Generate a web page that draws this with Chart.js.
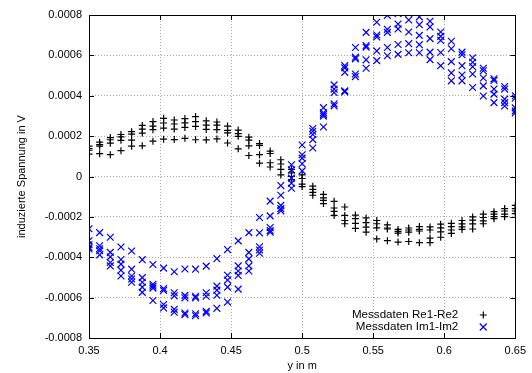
<!DOCTYPE html>
<html>
<head>
<meta charset="utf-8">
<script src="https://cdn.jsdelivr.net/npm/chart.js@4"></script>
<style>
  html, body { margin: 0; padding: 0; background: #fff; }
</style>
</head>
<body>
<canvas id="chart" width="532" height="373"></canvas>
<script>
// measurement positions (y in m)
const xPositions = [0.35, 0.3575, 0.365, 0.3725, 0.38, 0.3875, 0.395, 0.4025, 0.41, 0.4175,
  0.425, 0.4325, 0.44, 0.4475, 0.455, 0.4625, 0.47, 0.4775, 0.485, 0.4925,
  0.5, 0.5075, 0.515, 0.5225, 0.53, 0.5375, 0.545, 0.5525, 0.56, 0.5675,
  0.575, 0.5825, 0.59, 0.5975, 0.605, 0.6125, 0.62, 0.6275, 0.635, 0.6425, 0.65];

// Re1-Re2, four runs
const re1 = [0.000150, 0.000170, 0.000193, 0.000208, 0.000222, 0.000253, 0.000272, 0.000288, 0.000280, 0.000287,
  0.000297, 0.000276, 0.000270, 0.000250, 0.000230, 0.000195, 0.000163, 0.000126, 0.000083, 0.000035,
  0.000008, -0.000048, -0.000089, -0.000123, -0.000151, -0.000191, -0.000205, -0.000218, -0.000240, -0.000262,
  -0.000255, -0.000248, -0.000250, -0.000236, -0.000232, -0.000218, -0.000200, -0.000186, -0.000174, -0.000159, -0.000143];
const re2 = [0.000138, 0.000158, 0.000182, 0.000196, 0.000210, 0.000235, 0.000250, 0.000265, 0.000260, 0.000266,
  0.000272, 0.000254, 0.000254, 0.000228, 0.000212, 0.000180, 0.000154, 0.000114, 0.000062, 0.000018,
  -0.000010, -0.000064, -0.000106, -0.000156, -0.000193, -0.000209, -0.000228, -0.000234, -0.000255, -0.000272,
  -0.000265, -0.000262, -0.000265, -0.000254, -0.000248, -0.000235, -0.000216, -0.000203, -0.000186, -0.000171, -0.000159];
const re3 = [0.000130, 0.000150, 0.000165, 0.000179, 0.000180, 0.000215, 0.000232, 0.000240, 0.000235, 0.000243,
  0.000248, 0.000233, 0.000232, 0.000216, 0.000199, 0.000152, 0.000108, 0.000068, 0.000035, 0.000000,
  -0.000038, -0.000079, -0.000118, -0.000173, -0.000218, -0.000232, -0.000251, -0.000254, -0.000260, -0.000280,
  -0.000276, -0.000270, -0.000305, -0.000274, -0.000265, -0.000250, -0.000235, -0.000220, -0.000199, -0.000186, -0.000171];
const re4 = [0.000111, 0.000113, 0.000108, 0.000128, 0.000150, 0.000152, 0.000175, 0.000185, 0.000183, 0.000189,
  0.000182, 0.000181, 0.000186, 0.000166, 0.000137, 0.000104, 0.000066, 0.000047, 0.000008, -0.000015,
  -0.000050, -0.000093, -0.000134, -0.000193, -0.000234, -0.000257, -0.000276, -0.000309, -0.000318, -0.000325,
  -0.000322, -0.000328, -0.000328, -0.000301, -0.000282, -0.000262, -0.000260, -0.000234, -0.000209, -0.000199, -0.000184];

// Im1-Im2, five runs
const im1 = [-0.000259, -0.000278, -0.000301, -0.000349, -0.000369, -0.000412, -0.000436, -0.000454, -0.000472, -0.000458,
  -0.000459, -0.000444, -0.000407, -0.000362, -0.000319, -0.000278, -0.000203, -0.000122, -0.000045, 0.000058,
  0.000156, 0.000238, 0.000341, 0.000454, 0.000549, 0.000639, 0.000714, 0.000764, 0.000798, 0.000806,
  0.000808, 0.000791, 0.000769, 0.000716, 0.000670, 0.000616, 0.000588, 0.000536, 0.000484, 0.000446, 0.000400];
const im2 = [-0.000318, -0.000343, -0.000376, -0.000411, -0.000459, -0.000501, -0.000534, -0.000555, -0.000576, -0.000589,
  -0.000593, -0.000576, -0.000543, -0.000489, -0.000443, -0.000376, -0.000279, -0.000195, -0.000093, 0.000033,
  0.000108, 0.000224, 0.000316, 0.000433, 0.000538, 0.000591, 0.000649, 0.000701, 0.000729, 0.000755,
  0.000775, 0.000752, 0.000741, 0.000694, 0.000633, 0.000603, 0.000566, 0.000524, 0.000476, 0.000433, 0.000388];
const im3 = [-0.000338, -0.000358, -0.000398, -0.000434, -0.000493, -0.000524, -0.000543, -0.000564, -0.000591, -0.000601,
  -0.000601, -0.000593, -0.000563, -0.000513, -0.000468, -0.000408, -0.000348, -0.000253, -0.000143, -0.000008,
  0.000091, 0.000208, 0.000308, 0.000416, 0.000516, 0.000583, 0.000641, 0.000691, 0.000714, 0.000731,
  0.000716, 0.000699, 0.000683, 0.000674, 0.000569, 0.000549, 0.000544, 0.000488, 0.000433, 0.000383, 0.000340];
const im4 = [-0.000351, -0.000368, -0.000426, -0.000464, -0.000508, -0.000548, -0.000553, -0.000634, -0.000658, -0.000676,
  -0.000680, -0.000668, -0.000588, -0.000548, -0.000490, -0.000443, -0.000364, -0.000268, -0.000159, -0.000033,
  0.000063, 0.000183, 0.000299, 0.000360, 0.000424, 0.000508, 0.000578, 0.000622, 0.000639, 0.000654,
  0.000658, 0.000653, 0.000616, 0.000614, 0.000513, 0.000503, 0.000508, 0.000449, 0.000408, 0.000366, 0.000325];
const im5 = [-0.000359, -0.000388, -0.000443, -0.000493, -0.000524, -0.000574, -0.000614, -0.000651, -0.000672, -0.000684,
  -0.000690, -0.000676, -0.000653, -0.000622, -0.000558, -0.000468, -0.000380, -0.000276, -0.000170, -0.000058,
  0.000028, 0.000141, 0.000245, 0.000350, 0.000419, 0.000495, 0.000536, 0.000574, 0.000598, 0.000605,
  0.000613, 0.000613, 0.000579, 0.000549, 0.000474, 0.000474, 0.000441, 0.000399, 0.000366, 0.000349, 0.000315];

const xTicks = [0.35, 0.4, 0.45, 0.5, 0.55, 0.6, 0.65];
const yTicks = [-0.0008, -0.0006, -0.0004, -0.0002, 0, 0.0002, 0.0004, 0.0006, 0.0008];
const legendLabels = ['Messdaten Re1-Re2', 'Messdaten Im1-Im2'];

const fontFamily = '"Liberation Sans", Arial, sans-serif';

function toPoints(runs) {
  return xPositions.flatMap((x, i) => runs.map(r => ({ x: x, y: r[i] })));
}

// gnuplot style border, inward tick marks and legend
const gnuplotFrame = {
  id: 'gnuplotFrame',
  afterDraw(chart) {
    const { ctx, chartArea: a, scales } = chart;
    ctx.save();
    ctx.strokeStyle = '#000';
    ctx.lineWidth = 1;
    ctx.beginPath();
    xTicks.forEach(v => {
      const px = Math.round(scales.x.getPixelForValue(v)) + 0.5;
      ctx.moveTo(px, a.bottom); ctx.lineTo(px, a.bottom - 5);
      ctx.moveTo(px, a.top); ctx.lineTo(px, a.top + 5);
    });
    yTicks.forEach(v => {
      const py = Math.round(scales.y.getPixelForValue(v)) + 0.5;
      ctx.moveTo(a.left, py); ctx.lineTo(a.left + 5, py);
      ctx.moveTo(a.right, py); ctx.lineTo(a.right - 5, py);
    });
    ctx.stroke();
    ctx.strokeRect(Math.round(a.left) + 0.5, Math.round(a.top) + 0.5, Math.round(a.width), Math.round(a.height));

    ctx.font = '11.6px ' + fontFamily;
    ctx.fillStyle = '#000';
    ctx.textAlign = 'right';
    ctx.textBaseline = 'middle';
    const textRight = a.right - 57;
    const markX = a.right - 32;
    const rowY = [a.bottom - 23, a.bottom - 11];
    ctx.fillText(legendLabels[0], textRight, rowY[0]);
    ctx.fillText(legendLabels[1], textRight, rowY[1]);
    ctx.lineWidth = 1.2;
    ctx.beginPath();
    ctx.moveTo(markX - 3.5, rowY[0]); ctx.lineTo(markX + 3.5, rowY[0]);
    ctx.moveTo(markX, rowY[0] - 3.5); ctx.lineTo(markX, rowY[0] + 3.5);
    ctx.stroke();
    ctx.strokeStyle = '#0000ff';
    ctx.beginPath();
    ctx.moveTo(markX - 3.5, rowY[1] - 3.5); ctx.lineTo(markX + 3.5, rowY[1] + 3.5);
    ctx.moveTo(markX - 3.5, rowY[1] + 3.5); ctx.lineTo(markX + 3.5, rowY[1] - 3.5);
    ctx.stroke();
    ctx.restore();
  }
};

new Chart(document.getElementById('chart'), {
  type: 'scatter',
  data: {
    datasets: [
      {
        label: legendLabels[0],
        data: toPoints([re1, re2, re3, re4]),
        pointStyle: 'cross',
        pointRadius: 3.5,
        borderColor: '#000',
        backgroundColor: '#000',
        borderWidth: 1.2,
        order: 1
      },
      {
        label: legendLabels[1],
        data: toPoints([im1, im2, im3, im4, im5]),
        pointStyle: 'crossRot',
        pointRadius: 4.8,
        borderColor: '#0000ff',
        backgroundColor: '#0000ff',
        borderWidth: 1.2,
        order: 0
      }
    ]
  },
  options: {
    responsive: false,
    animation: false,
    layout: { padding: { top: 15, right: 13, left: 0, bottom: 0 } },
    plugins: { legend: { display: false }, tooltip: { enabled: false } },
    scales: {
      x: {
        type: 'linear',
        min: 0.35,
        max: 0.65,
        afterFit: s => { s.height = 35; },
        afterBuildTicks: s => { s.ticks = xTicks.map(v => ({ value: v })); },
        ticks: {
          color: '#000',
          font: { family: fontFamily, size: 11 },
          padding: 6,
          maxRotation: 0,
          callback: v => String(Number(v.toFixed(2)))
        },
        grid: { color: '#a8a8a8', drawTicks: false, lineWidth: 1 },
        border: { display: false, dash: [1, 2] },
        title: {
          display: true,
          text: 'y in m',
          color: '#000',
          font: { family: fontFamily, size: 11 },
          padding: { top: 0, bottom: 0 }
        }
      },
      y: {
        min: -0.0008,
        max: 0.0008,
        afterFit: s => { s.width = 89; },
        afterBuildTicks: s => { s.ticks = yTicks.map(v => ({ value: v })); },
        ticks: {
          color: '#000',
          font: { family: fontFamily, size: 11 },
          padding: 7,
          callback: v => String(Number(v.toFixed(4)))
        },
        grid: { color: '#a8a8a8', drawTicks: false, lineWidth: 1 },
        border: { display: false, dash: [1, 2] },
        title: {
          display: true,
          text: 'induzierte Spannung in V',
          color: '#000',
          font: { family: fontFamily, size: 11 },
          padding: { top: 15, bottom: 0 }
        }
      }
    }
  },
  plugins: [gnuplotFrame]
});
</script>
</body>
</html>
